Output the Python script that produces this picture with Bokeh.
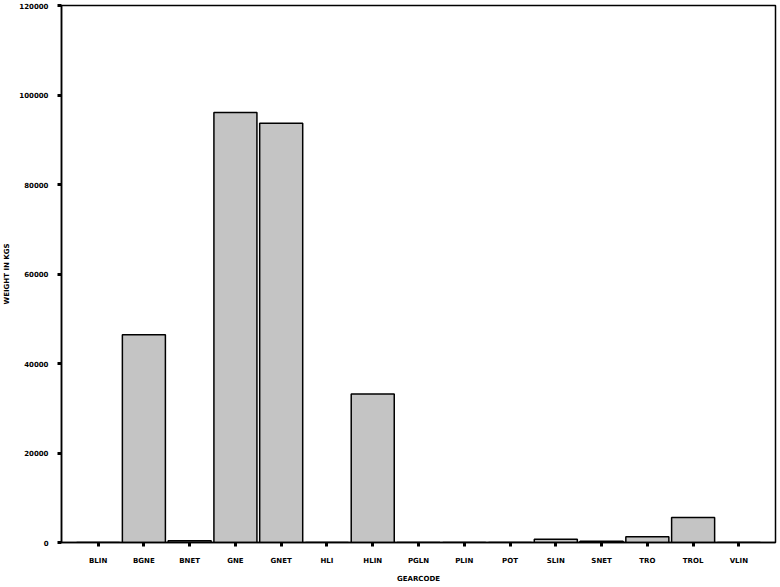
from bokeh.plotting import figure
from bokeh.models import ColumnDataSource, Range1d, FactorRange, FixedTicker
from bokeh.embed import file_html
from bokeh.resources import INLINE

gear_codes = ["BLIN", "BGNE", "BNET", "GNE", "GNET", "HLI", "HLIN", "PGLN",
              "PLIN", "POT", "SLIN", "SNET", "TRO", "TROL", "VLIN"]
weight_kgs = [0, 46400, 400, 96100, 93700, 0, 33200, 0,
              0, 0, 700, 300, 1300, 5600, 0]
y_ticks = [0, 20000, 40000, 60000, 80000, 100000, 120000]

src = ColumnDataSource(dict(x=gear_codes, y=weight_kgs))

xr = FactorRange(*gear_codes, range_padding=0.3, range_padding_units="absolute")
p = figure(x_range=xr, y_range=Range1d(0, 120000),
           width=778, height=585, output_backend="svg", toolbar_location=None,
           min_border_left=56, min_border_right=3, min_border_top=5,
           min_border_bottom=42)

p.vbar(x="x", top="y", width=0.94, source=src, fill_color="#c4c4c4",
       line_color="black", line_width=1.5)

p.xgrid.grid_line_color = None
p.ygrid.grid_line_color = None
p.outline_line_color = "black"
p.outline_line_width = 1.5
p.outline_line_alpha = 1

p.yaxis.ticker = FixedTicker(ticks=y_ticks)
p.yaxis.formatter.use_scientific = False
p.yaxis.axis_label = "WEIGHT IN KGS"
p.xaxis.axis_label = "GEARCODE"

for ax in (p.xaxis[0], p.yaxis[0]):
    ax.axis_line_color = "black"
    ax.axis_line_width = 1.5
    ax.major_tick_line_color = "black"
    ax.major_tick_line_width = 3
    ax.major_tick_out = 4
    ax.major_tick_in = 0
    ax.minor_tick_line_color = None
    ax.major_label_text_font = "DejaVu Sans"
    ax.major_label_text_font_style = "bold"
    ax.major_label_text_font_size = "7px"
    ax.major_label_text_color = "black"
    ax.axis_label_text_font = "DejaVu Sans"
    ax.axis_label_text_font_style = "bold"
    ax.axis_label_text_font_size = "7px"
    ax.axis_label_text_color = "black"

p.xaxis.major_label_standoff = 10
p.xaxis.axis_label_standoff = 7
p.yaxis.major_label_standoff = 9
p.yaxis.axis_label_standoff = 5

open("out.html", "w").write(file_html(p, INLINE))
